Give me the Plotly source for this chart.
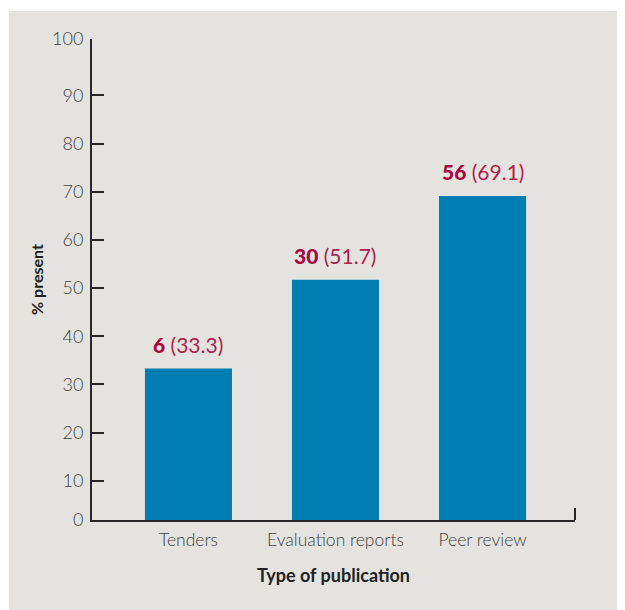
import plotly.graph_objects as go

categories = ["Tenders", "Evaluation reports", "Peer review"]
counts = [6, 30, 56]
percents = [33.3, 51.7, 69.1]
y_ticks = [10, 20, 30, 40, 50, 60, 70, 80, 90]
y_range = [1.85, 101.7]
y_end_labels = ["0", "100"]

FONT = "Lato"
BAR = "#007db3"
CRIMSON = "#a6093d"
CRIMSON_LIGHT = "#ad1f4c"
AXIS = "#262626"
TICKTXT = "#3e3e3e"
BG = "#e4e3df"

fig = go.Figure()
fig.add_trace(go.Bar(
    x=categories, y=percents, width=0.592,
    marker=dict(color=BAR, line=dict(width=0)),
    hoverinfo="skip",
))

for cat, n, p in zip(categories, counts, percents):
    fig.add_annotation(
        x=cat, y=p, xref="x", yref="y",
        text=f"<span style='font-weight:900'>{n}</span> "
             f"<span style='color:{CRIMSON_LIGHT};font-weight:400'>({p})</span>",
        showarrow=False, yanchor="bottom", yshift=10,
        font=dict(family=FONT, size=21, color=CRIMSON),
    )

fig.update_xaxes(
    type="category", range=[-0.656, 2.629],
    showline=True, linewidth=2, linecolor=AXIS,
    ticks="", showgrid=False, zeroline=False, ticklabelstandoff=3,
    tickfont=dict(family=FONT, size=17.5, color=TICKTXT, weight=300),
    title=dict(text="<b>Type of publication</b>",
               font=dict(family=FONT, size=18, color="#222222"), standoff=20),
)
fig.update_yaxes(
    range=y_range,
    tickvals=[y_range[0]] + y_ticks + [y_range[1]],
    ticktext=[y_end_labels[0]] + [str(v) for v in y_ticks] + [y_end_labels[1]],
    showline=True, linewidth=2, linecolor=AXIS,
    ticks="inside", ticklen=12, tickwidth=2, tickcolor=AXIS,
    showgrid=False, zeroline=False, ticklabelstandoff=3,
    tickfont=dict(family=FONT, size=18, color=TICKTXT, weight=300),
    title=dict(text="<b>% present</b>",
               font=dict(family=FONT, size=16, color="#222222"), standoff=4),
)

# right end tick of the x axis
fig.add_shape(type="line", xref="x domain", x0=1, x1=1,
              yref="y domain", y0=0, y1=0.025,
              line=dict(color=AXIS, width=2))

# gray panel
fig.add_shape(type="rect", xref="paper", yref="paper",
              x0=-0.1718, x1=1.11, y0=-0.19, y1=1.0582,
              fillcolor=BG, line=dict(width=0), layer="below")

fig.update_layout(
    width=617, height=602,
    margin=dict(l=84, r=50, t=31, b=90),
    paper_bgcolor="white", plot_bgcolor="rgba(0,0,0,0)",
    showlegend=False,
)

fig.write_html("out.html")
